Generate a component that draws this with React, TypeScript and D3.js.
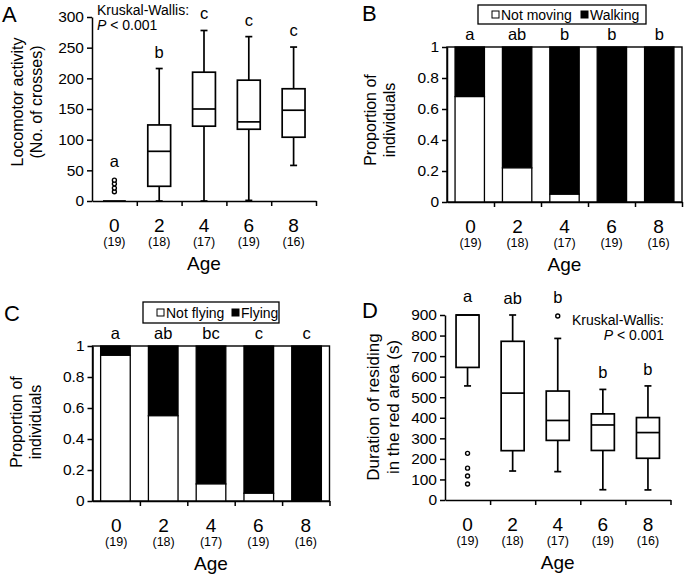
import { useEffect, useRef } from "react";
import * as d3 from "d3";

const FONT = "'Liberation Sans', Arial, Helvetica, sans-serif";

// Shared categories
const ages = ["0", "2", "4", "6", "8"];
const sampleSizes = ["(19)", "(18)", "(17)", "(19)", "(16)"];

// Panel A: locomotor activity, [min, q1, median, q3, max]
const locomotorStats = [
  [0, 0, 0, 0, 0],
  [0, 24, 81, 124, 216],
  [0, 122, 150, 210, 278],
  [1, 117, 129, 197, 268],
  [58, 104, 148, 183, 251],
];
const locomotorOutliers = [[15, 21, 28, 34], [], [], [], []];
const locomotorLetters = ["a", "b", "c", "c", "c"];
const locomotorTicks = [0, 50, 100, 150, 200, 250, 300];

// Panel B: walking
const notMovingShare = [0.68, 0.22, 0.05, 0, 0];
const walkingLetters = ["a", "ab", "b", "b", "b"];

// Panel C: flying
const notFlyingShare = [0.94, 0.55, 0.11, 0.05, 0];
const flyingLetters = ["a", "ab", "bc", "c", "c"];
const proportionTicks = [0, 0.2, 0.4, 0.6, 0.8, 1];

// Panel D: duration in red area, [min, q1, median, q3, max]
const residingStats = [
  [555, 645, 900, 900, 900],
  [141, 240, 520, 772, 900],
  [138, 290, 387, 530, 786],
  [50, 241, 365, 419, 538],
  [49, 203, 328, 401, 555],
];
const residingOutliers = [[78, 117, 155, 227], [], [895], [], []];
const residingLetters = ["a", "ab", "b", "b", "b"];
const residingTicks = [0, 100, 200, 300, 400, 500, 600, 700, 800, 900];

type Frame = { left: number; right: number; top: number; bottom: number };

// y axis + x axis (ticks at category boundaries) drawn with d3
const Axes = ({
  frame,
  yScale,
  ticks,
}: {
  frame: Frame;
  yScale: d3.ScaleLinear<number, number>;
  ticks: number[];
}) => {
  const ref = useRef<SVGGElement>(null);
  useEffect(() => {
    const g = d3.select(ref.current);
    g.selectAll("*").remove();
    const yAxis = d3
      .axisLeft(yScale)
      .tickValues(ticks)
      .tickSize(5)
      .tickSizeOuter(0)
      .tickPadding(3)
      .tickFormat((d) => String(d));
    g.append("g").attr("transform", `translate(${frame.left},0)`).call(yAxis);

    const bounds = d3
      .scaleLinear()
      .domain([0, ages.length])
      .range([frame.left, frame.right]);
    const xAxis = d3
      .axisBottom(bounds)
      .tickValues(d3.range(1, ages.length + 1))
      .tickSize(5)
      .tickSizeOuter(0)
      .tickFormat(() => "");
    g.append("g").attr("transform", `translate(0,${frame.bottom})`).call(xAxis);

    g.selectAll("path.domain, line").attr("stroke", "#000").attr("stroke-width", 1.5);
    g.selectAll("g").attr("font-family", null).attr("font-size", null);
    g.selectAll("text")
      .attr("font-family", FONT)
      .attr("font-size", 15.5)
      .attr("fill", "#000");
  }, [frame, yScale, ticks]);
  return <g ref={ref} />;
};

const CategoryLabels = ({ frame, title }: { frame: Frame; title: string }) => {
  const x = d3.scaleBand().domain(ages).range([frame.left, frame.right]);
  return (
    <g fontFamily={FONT} fill="#000" textAnchor="middle">
      {ages.map((a, i) => (
        <g key={a}>
          <text x={x(a)! + x.bandwidth() / 2} y={frame.bottom + 31} fontSize={19}>
            {a}
          </text>
          <text x={x(a)! + x.bandwidth() / 2} y={frame.bottom + 45} fontSize={12.5}>
            {sampleSizes[i]}
          </text>
        </g>
      ))}
      <text x={(frame.left + frame.right) / 2} y={frame.bottom + 69} fontSize={19}>
        {title}
      </text>
    </g>
  );
};

const YTitle = ({
  lines,
  xs,
  y,
  size = 16,
}: {
  lines: string[];
  xs: number[];
  y: number;
  size?: number;
}) => (
  <g fontFamily={FONT} fontSize={size} fill="#000" textAnchor="middle">
    {lines.map((l, i) => (
      <text key={i} transform={`translate(${xs[i]},${y}) rotate(-90)`} dy="0.35em">
        {l}
      </text>
    ))}
  </g>
);

const BoxPanel = ({
  frame,
  stats,
  outliers,
  letters,
  ticks,
}: {
  frame: Frame;
  stats: number[][];
  outliers: number[][];
  letters: string[];
  ticks: number[];
}) => {
  const yScale = d3
    .scaleLinear()
    .domain([0, ticks[ticks.length - 1]])
    .range([frame.bottom, frame.top]);
  const xScale = d3
    .scaleBand()
    .domain(ages)
    .range([frame.left, frame.right])
    .paddingInner(0.49)
    .paddingOuter(0.245);
  const bw = xScale.bandwidth();
  const cap = 7;

  return (
    <g>
      {ages.map((a, i) => {
        const [mn, q1, md, q3, mx] = stats[i];
        const x0 = xScale(a)!;
        const cx = x0 + bw / 2;
        const tops = [mx, ...outliers[i]];
        const topY = yScale(d3.max(tops)!) - (outliers[i].length ? 2 : 0);
        return (
          <g key={a} stroke="#000" strokeWidth={1.7} fill="none">
            <line x1={cx} x2={cx} y1={yScale(mn)} y2={yScale(q1)} />
            <line x1={cx} x2={cx} y1={yScale(q3)} y2={yScale(mx)} />
            {mn !== q1 && (
              <line x1={cx - cap / 2} x2={cx + cap / 2} y1={yScale(mn)} y2={yScale(mn)} />
            )}
            {mx !== q3 && (
              <line x1={cx - cap / 2} x2={cx + cap / 2} y1={yScale(mx)} y2={yScale(mx)} />
            )}
            <rect x={x0} width={bw} y={yScale(q3)} height={yScale(q1) - yScale(q3)} fill="#fff" />
            <line x1={x0} x2={x0 + bw} y1={yScale(md)} y2={yScale(md)} />
            {outliers[i].map((o, j) => (
              <circle key={j} cx={cx} cy={yScale(o)} r={2} strokeWidth={1.4} fill="#fff" />
            ))}
            <text
              x={cx}
              y={topY - 11}
              stroke="none"
              fill="#000"
              fontFamily={FONT}
              fontSize={16.5}
              textAnchor="middle"
            >
              {letters[i]}
            </text>
          </g>
        );
      })}
      <Axes frame={frame} yScale={yScale} ticks={ticks} />
    </g>
  );
};

const StackPanel = ({
  frame,
  share,
  letters,
  legend,
}: {
  frame: Frame;
  share: number[];
  letters: string[];
  legend: { x: number; y: number; w: number; h: number; labels: string[]; split: number };
}) => {
  const yScale = d3.scaleLinear().domain([0, 1]).range([frame.bottom, frame.top]);
  const xScale = d3
    .scaleBand()
    .domain(ages)
    .range([frame.left, frame.right])
    .paddingInner(0.38)
    .paddingOuter(0.17);
  const bw = xScale.bandwidth();
  const cy = legend.y + legend.h / 2;
  return (
    <g>
      <rect
        x={frame.left}
        y={frame.top}
        width={frame.right - frame.left}
        height={frame.bottom - frame.top}
        fill="#fff"
        stroke="#000"
        strokeWidth={1.4}
      />
      {ages.map((a, i) => {
        const x0 = xScale(a)!;
        return (
          <g key={a} stroke="#000" strokeWidth={1.3}>
            <rect x={x0} width={bw} y={yScale(1)} height={yScale(share[i]) - yScale(1)} fill="#000" />
            <rect x={x0} width={bw} y={yScale(share[i])} height={yScale(0) - yScale(share[i])} fill="#fff" />
            <text
              x={x0 + bw / 2}
              y={frame.top - 7}
              stroke="none"
              fill="#000"
              fontFamily={FONT}
              fontSize={16.5}
              textAnchor="middle"
            >
              {letters[i]}
            </text>
          </g>
        );
      })}
      <Axes frame={frame} yScale={yScale} ticks={proportionTicks} />
      <g fontFamily={FONT} fontSize={14} fill="#000">
        <rect x={legend.x} y={legend.y} width={legend.w} height={legend.h} fill="#fff" stroke="#000" strokeWidth={1.3} />
        <rect x={legend.x + 14} y={cy - 3.5} width={7} height={7} fill="#fff" stroke="#000" strokeWidth={1} />
        <text x={legend.x + 23} y={cy + 5}>{legend.labels[0]}</text>
        <rect x={legend.x + legend.split} y={cy - 3.5} width={7} height={7} fill="#000" stroke="#000" strokeWidth={1} />
        <text x={legend.x + legend.split + 9} y={cy + 5}>{legend.labels[1]}</text>
      </g>
    </g>
  );
};

const KruskalNote = ({ x, y, anchor }: { x: number; y: number; anchor: "start" | "end" }) => (
  <g fontFamily={FONT} fontSize={14} fill="#000" textAnchor={anchor}>
    <text x={x} y={y}>Kruskal-Wallis:</text>
    <text x={x} y={y + 15}>
      <tspan fontStyle="italic">P</tspan> &lt; 0.001
    </text>
  </g>
);

const PanelLetter = ({ x, y, label }: { x: number; y: number; label: string }) => (
  <text x={x} y={y} fontFamily={FONT} fontSize={22} fill="#000">
    {label}
  </text>
);

const frameA: Frame = { left: 92, right: 316, top: 17, bottom: 201 };
const frameB: Frame = { left: 447, right: 682, top: 47, bottom: 202 };
const frameC: Frame = { left: 92.5, right: 329.5, top: 346, bottom: 501 };
const frameD: Frame = { left: 445, right: 670.5, top: 315, bottom: 500 };

export default function App() {
  return (
    <svg
      width={685}
      height={578}
      style={{ position: "absolute", left: 0, top: 0, background: "#fff" }}
    >
      {/* A */}
      <PanelLetter x={2} y={22} label="A" />
      <YTitle lines={["Locomotor activity", "(No. of crosses)"]} xs={[17, 36]} y={102} />
      <BoxPanel
        frame={frameA}
        stats={locomotorStats}
        outliers={locomotorOutliers}
        letters={locomotorLetters}
        ticks={locomotorTicks}
      />
      <KruskalNote x={97} y={15} anchor="start" />
      <CategoryLabels frame={frameA} title="Age" />

      {/* B */}
      <PanelLetter x={362} y={21} label="B" />
      <YTitle lines={["Proportion of", "individuals"]} xs={[370, 389]} y={120} />
      <StackPanel
        frame={frameB}
        share={notMovingShare}
        letters={walkingLetters}
        legend={{ x: 478, y: 5, w: 168, h: 19, labels: ["Not moving", "Walking"], split: 103 }}
      />
      <CategoryLabels frame={frameB} title="Age" />

      {/* C */}
      <PanelLetter x={4} y={321} label="C" />
      <YTitle lines={["Proportion of", "individuals"]} xs={[16, 35]} y={422} />
      <StackPanel
        frame={frameC}
        share={notFlyingShare}
        letters={flyingLetters}
        legend={{ x: 143, y: 302, w: 136, h: 21, labels: ["Not flying", "Flying"], split: 89 }}
      />
      <CategoryLabels frame={frameC} title="Age" />

      {/* D */}
      <PanelLetter x={362} y={318} label="D" />
      <YTitle
        lines={["Duration of residing", "in the red area (s)"]}
        xs={[373, 393]}
        y={407}
        size={17}
      />
      <BoxPanel
        frame={frameD}
        stats={residingStats}
        outliers={residingOutliers}
        letters={residingLetters}
        ticks={residingTicks}
      />
      <KruskalNote x={664} y={325} anchor="end" />
      <CategoryLabels frame={frameD} title="Age" />
    </svg>
  );
}
